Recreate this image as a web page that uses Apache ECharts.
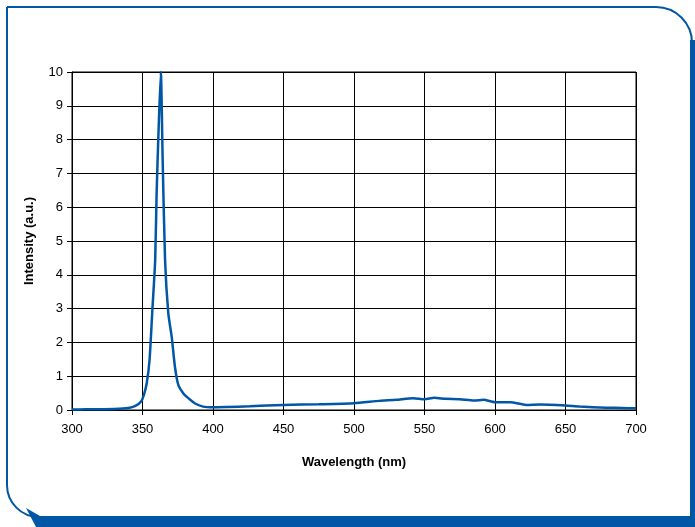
<!DOCTYPE html>
<html>
<head>
<meta charset="utf-8">
<script src="https://cdn.jsdelivr.net/npm/echarts@6/dist/echarts.min.js"></script>
<style>
  html, body { margin: 0; padding: 0; background: #fff; }
  #chart { width: 695px; height: 527px; }
</style>
</head>
<body>
<div id="chart"></div>
<script>
// spectrum
const wavelength = [300, 310, 320, 330, 340, 345, 349, 351, 353, 355, 357, 359, 360, 361.5, 363, 364.3, 366, 368.3, 370.7, 373, 375.4, 379, 382.5, 387, 393, 400, 410, 426, 450, 475, 500, 518, 530, 542, 550, 557, 565, 575, 585, 592, 600, 611, 622, 632, 650, 660, 679, 690, 700]
const intensity = [0.015, 0.02, 0.025, 0.03, 0.06, 0.12, 0.25, 0.45, 0.79, 1.48, 2.96, 4.44, 6.4, 8.4, 10, 7.4, 4.44, 2.86, 2.17, 1.28, 0.74, 0.49, 0.35, 0.2, 0.1, 0.08, 0.09, 0.11, 0.15, 0.17, 0.2, 0.27, 0.3, 0.35, 0.32, 0.36, 0.33, 0.32, 0.28, 0.3, 0.23, 0.23, 0.15, 0.16, 0.13, 0.1, 0.07, 0.06, 0.05]
const xTicks = { min: 300, max: 700, step: 50 }
const yTicks = { min: 0, max: 10, step: 1 }

const blue = '#0057a6'
const font = 'Liberation Sans, Arial, sans-serif'

const chart = echarts.init(document.getElementById('chart'))

const option = {
  backgroundColor: '#fff',
  animation: false,
  grid: {
    left: 72,
    right: 59,
    top: 72,
    bottom: 117,
    show: true,
    borderColor: '#000',
    borderWidth: 1
  },
  xAxis: {
    type: 'value',
    min: xTicks.min,
    max: xTicks.max,
    interval: xTicks.step,
    name: 'Wavelength (nm)',
    nameLocation: 'middle',
    nameGap: 46,
    nameTextStyle: { color: '#000', fontSize: 13, fontWeight: 'bold', fontFamily: font },
    axisLine: { lineStyle: { color: '#000', width: 1 } },
    axisTick: { show: true, length: 5, lineStyle: { color: '#000' } },
    axisLabel: { color: '#000', fontSize: 13, fontFamily: font, margin: 13 },
    splitLine: { show: true, lineStyle: { color: '#000', width: 1 } }
  },
  yAxis: {
    type: 'value',
    min: yTicks.min,
    max: yTicks.max,
    interval: yTicks.step,
    name: 'Intensity (a.u.)',
    nameLocation: 'middle',
    nameGap: 36,
    nameTextStyle: { color: '#000', fontSize: 13, fontWeight: 'bold', fontFamily: font },
    axisLine: { show: true, lineStyle: { color: '#000', width: 1 } },
    axisTick: { show: true, length: 5, lineStyle: { color: '#000' } },
    axisLabel: { color: '#000', fontSize: 13, fontFamily: font, margin: 9 },
    splitLine: { show: true, lineStyle: { color: '#000', width: 1 } }
  },
  series: [{
    type: 'line',
    data: wavelength.map((w, i) => [w, intensity[i]]),
    showSymbol: false,
    smooth: 0.2,
    lineStyle: { color: blue, width: 2.5 },
    clip: false
  }],
  graphic: [
    {
      type: 'rect',
      shape: { x: 7, y: 7, width: 685, height: 510, r: [0, 36, 0, 32] },
      style: { fill: 'none', stroke: blue, lineWidth: 2 },
      z: -1
    },
    {
      type: 'rect',
      shape: { x: 690, y: 40, width: 5, height: 487 },
      style: { fill: blue },
      z: -1
    },
    {
      type: 'polygon',
      shape: { points: [[26, 508], [40, 516], [695, 516], [695, 527], [36, 527]] },
      style: { fill: blue },
      z: -1
    }
  ]
}

chart.setOption(option)
</script>
</body>
</html>
